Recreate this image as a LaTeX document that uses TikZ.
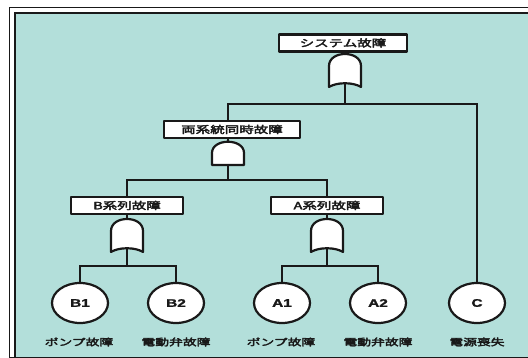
\documentclass[tikz,border=0pt]{standalone}
\usepackage{fontspec}
\newfontfamily\jp{Noto Sans CJK JP}[FakeBold=3]
\newfontfamily\lat{Liberation Sans}[FakeBold=1.5]
\usetikzlibrary{shapes.geometric}
\definecolor{ink}{RGB}{25,25,25}
\definecolor{bgteal}{RGB}{179,223,218}
\pgfdeclarelayer{bg}
\pgfdeclarelayer{back}
\pgfsetlayers{bg,back,main}
\newcommand{\jt}[1]{\scalebox{1.45}[1]{\fontsize{10}{12}\selectfont\jp #1}}
\newcommand{\lt}[1]{\scalebox{1.45}[1]{\fontsize{9.5}{11}\selectfont\jp #1}}
\newcommand{\et}[1]{\scalebox{1.4}[1]{\fontsize{11}{13}\selectfont\lat\bfseries #1}}
\begin{document}
\begin{tikzpicture}[x=1pt,y=-1pt,line join=round,
  conn/.style={draw=ink,line width=2.2pt},
  evbox/.style={draw=ink,line width=2.2pt,fill=white,minimum height=17pt,inner sep=0pt,text=ink},
  leaf/.style={ellipse,draw=ink,line width=2.2pt,fill=white,minimum width=56pt,minimum height=40pt,inner sep=0pt,text=ink},
  lbl/.style={inner sep=0pt,text=ink},
  pics/orgate/.style={code={
    \filldraw[fill=white,draw=ink,line width=2.2pt]
      (-16,33) -- (-16,12) .. controls (-16,-4) and (16,-4) .. (16,12)
      -- (16,33) .. controls (8,28) and (-8,28) .. cycle;
    \coordinate (-out) at (0,0);
    \coordinate (-in) at (0,29);
  }},
  pics/andgate/.style={code={
    \filldraw[fill=white,draw=ink,line width=2.2pt]
      (-16,24) -- (-16,12) .. controls (-16,-3) and (16,-3) .. (16,12)
      -- (16,24) -- cycle;
    \coordinate (-out) at (0,0);
    \coordinate (-in) at (0,24);
  }}]
\useasboundingbox (0,0) rectangle (528,358);
\begin{pgfonlayer}{bg}
  \fill[white] (0,0) rectangle (528,358);
  \fill[bgteal] (15,13) rectangle (528,357);
  \draw[ink,line width=1.4pt] (9.5,358) -- (9.5,7.5) -- (528,7.5);
  \draw[ink,line width=2pt] (15,357) -- (15,13) -- (528,13);
  \draw[ink,line width=1.5pt] (9.5,357.3) -- (528,357.3);
\end{pgfonlayer}

% events
\node[evbox,minimum width=128pt] (top) at (343,43) {\jt{システム故障}};
\node[evbox,minimum width=136pt] (mid) at (232,129.5) {\jt{両系統同時故障}};
\node[evbox,minimum width=112pt] (bsys) at (127,205.5) {\jt{B系列故障}};
\node[evbox,minimum width=112pt] (asys) at (327,205.5) {\jt{A系列故障}};

% gates
\pic (g1) at (345,54) {orgate};
\pic (g2) at (228,141) {andgate};
\pic (gb) at (127,219) {orgate};
\pic (ga) at (327,219) {orgate};

% basic events
\node[leaf] (b1) at (80,303) {\et{B1}};
\node[leaf] (b2) at (176,303) {\et{B2}};
\node[leaf] (a1) at (282,303) {\et{A1}};
\node[leaf] (a2) at (378,303) {\et{A2}};
\node[leaf] (c) at (477,303) {\et{C}};

\node[lbl] (lb1) at (79,342) {\lt{ポンプ故障}};
\node[lbl] (lb2) at (176,342) {\lt{電動弁故障}};
\node[lbl] (la1) at (281,342) {\lt{ポンプ故障}};
\node[lbl] (la2) at (378,342) {\lt{電動弁故障}};
\node[lbl] (lc) at (477,342) {\lt{電源喪失}};

% junctions
\coordinate (j1) at (345,104);
\coordinate (j2) at (228,180);
\coordinate (jb) at (127,266);
\coordinate (ja) at (327,266);

\begin{pgfonlayer}{back}
  \draw[conn] (g1-in) -- (j1) -| (g2-out);
  \draw[conn] (j1) -| (c.north);
  \draw[conn] (g2-in) -- (j2) -| (gb-out);
  \draw[conn] (j2) -| (ga-out);
  \draw[conn] (gb-in) -- (jb) -| (b1.north);
  \draw[conn] (jb) -| (b2.north);
  \draw[conn] (ga-in) -- (ja) -| (a1.north);
  \draw[conn] (ja) -| (a2.north);
\end{pgfonlayer}
\end{tikzpicture}
\end{document}
